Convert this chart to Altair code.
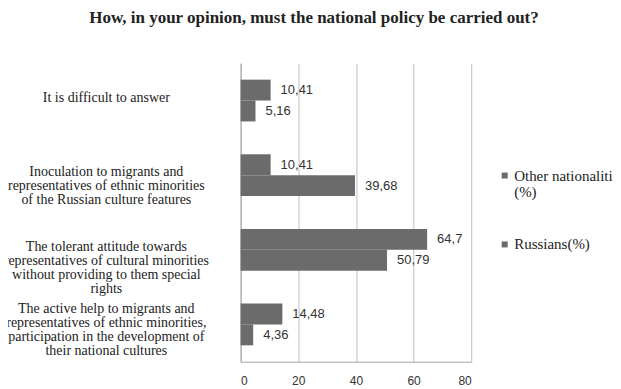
import altair as alt
import pandas as pd

categories = [
    "It is difficult to answer",
    "Inoculation to migrants and|representatives of ethnic minorities|of  the Russian culture features",
    "The tolerant attitude towards|representatives of cultural minorities|without providing to them special|rights",
    "The active help to migrants and|representatives of ethnic minorities,|participation in the development of|their national cultures",
]
series = ["Other nationalities|(%)", "Russians(%)"]
other_values = [10.41, 10.41, 64.7, 14.48]
russian_values = [5.16, 39.68, 50.79, 4.36]
x_ticks = [0, 20, 40, 60, 80]

rows = []
for c, o, r in zip(categories, other_values, russian_values):
    rows.append({"category": c, "series": series[0], "value": o})
    rows.append({"category": c, "series": series[1], "value": r})
df = pd.DataFrame(rows)

BAR = "#6b6b6b"

base = alt.Chart(df).transform_calculate(
    label="replace(toString(datum.value), '.', ',')"
)

y = alt.Y(
    "category:N",
    sort=categories,
    scale=alt.Scale(paddingInner=0.44, paddingOuter=0.22),
    axis=alt.Axis(
        title=None,
        labelExpr="split(datum.label, '|')",
        labelAlign="center",
        labelBaseline="middle",
        labelPadding=135,
        labelLineHeight=14,
        labelFont="Liberation Serif",
        labelFontSize=14,
        labelColor="#222222",
        labelLimit=0,
        ticks=False,
        domainColor="#a6a6a6",
        labelOffset={"condition": {"test": "indexof(datum.value, 'active') >= 0", "value": -15}, "value": -3},
    ),
)
yoff = alt.YOffset("series:N", sort=series, scale=alt.Scale(paddingInner=0, paddingOuter=0))
x = alt.X(
    "value:Q",
    scale=alt.Scale(domain=[0, 80], nice=False),
    axis=alt.Axis(
        title=None,
        values=x_ticks,
        grid=True,
        gridColor="#bfbfbf",
        ticks=False,
        domainColor="#a6a6a6",
        labelFont="Liberation Sans",
        labelFontSize=12,
        labelColor="#333333",
        labelPadding=14,
    ),
)

bars = base.mark_bar().encode(
    x=x,
    y=y,
    yOffset=yoff,
    color=alt.Color(
        "series:N",
        sort=series,
        scale=alt.Scale(domain=series, range=[BAR, BAR]),
        legend=alt.Legend(
            title=None,
            orient="none",
            legendX=257,
            legendY=105,
            symbolType="square",
            symbolSize=36,
            symbolStrokeWidth=0,
            labelFont="Liberation Serif",
            labelFontSize=15,
            labelColor="#222222",
            labelExpr="split(datum.label, '|')",
            rowPadding=36,
            labelOffset=2,
        ),
    ),
)

text = base.mark_text(
    align="left", dx=10, baseline="middle", font="Liberation Sans", fontSize=13, color="#333333"
).encode(x=x, y=y, yOffset=yoff, text="label:N")

chart = (
    alt.layer(bars, text)
    .properties(
        width=231,
        height=299,
        autosize=alt.AutoSizeParams(type="none"),
        padding={"left": 233, "top": 55, "right": 142, "bottom": 27},
        title=alt.TitleParams(
            text="How, in your opinion, must the national policy be carried out?",
            font="Liberation Serif",
            fontSize=17,
            fontWeight="bold",
            color="#222222",
            anchor="middle",
            dx=-42,
            offset=36,
        ),
    )
    .configure_view(strokeWidth=0)
)

chart.save("out.html", embed_options={"renderer": "svg", "actions": False})
